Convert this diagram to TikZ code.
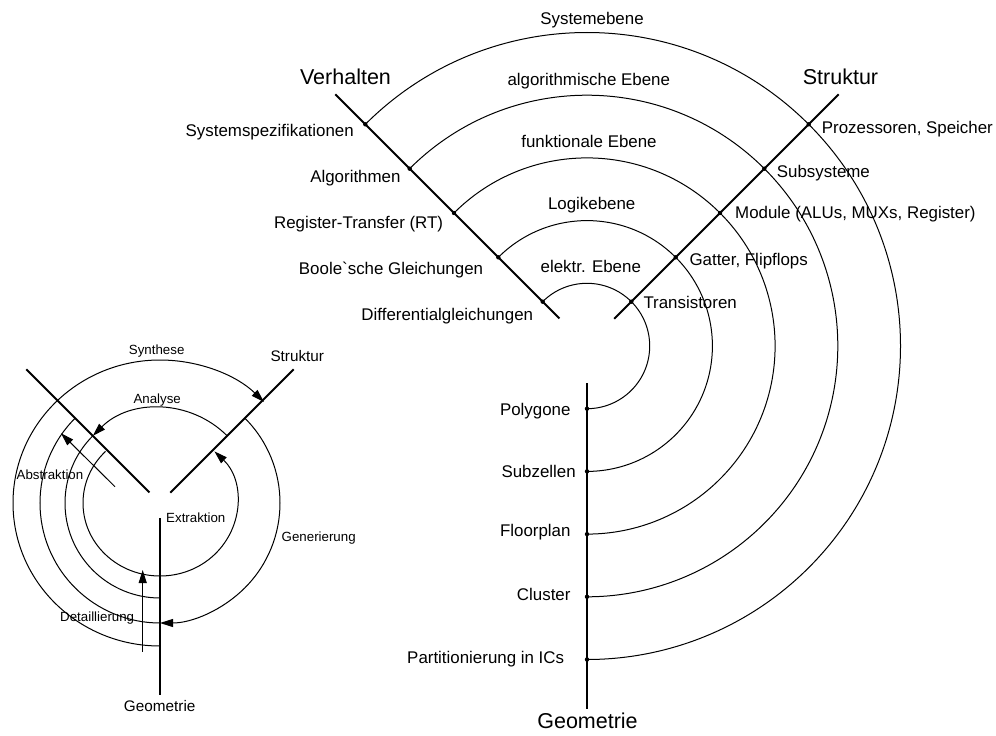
\documentclass[tikz,border=0pt]{standalone}
\usepackage{fontspec}
\newfontfamily\labfont{Liberation Sans}
\usetikzlibrary{calc,arrows.meta}

\begin{document}
\begin{tikzpicture}[x=1pt,y=1pt,
  axisline/.style={line width=1.8pt},
  ringline/.style={line width=1pt},
  joint/.style={circle,fill,inner sep=0pt,minimum size=4.4pt},
  lbl/.style={font=\labfont\fontsize{16.9}{20}\selectfont,inner sep=0pt},
  bigtitle/.style={font=\labfont\fontsize{21.5}{26}\selectfont,inner sep=0pt},
  slbl/.style={font=\labfont\fontsize{13.3}{16}\selectfont,inner sep=0pt},
  stitle/.style={font=\labfont\fontsize{15.3}{18}\selectfont,inner sep=0pt},
  arrowend/.style={-{Triangle[length=13pt,width=8pt]}},
]
\useasboundingbox (0,0) rectangle (996,-736);

% ---------------- Y-diagram (large) ----------------
\coordinate (C) at (587,-346);
\coordinate (VA) at ($(C)+(135:356)$);
\coordinate (VB) at ($(C)+(135:39)$);
\coordinate (SA) at ($(C)+(45:356)$);
\coordinate (SB) at ($(C)+(45:38.5)$);
\coordinate (GA) at ($(C)+(270:37.3)$);
\coordinate (GB) at ($(C)+(270:363)$);

\foreach \i/\r in {1/62.7,2/125.4,3/188.1,4/250.8,5/313.5} {
  \coordinate (va\i) at ($(C)+(135:\r)$);
  \draw[ringline] (va\i) arc[start angle=135, end angle=-90, radius=\r pt];
}

\draw[axisline] (VA) -- (VB);
\draw[axisline] (SA) -- (SB);
\draw[axisline] (GA) -- (GB);

\foreach \i/\r in {1/62.7,2/125.4,3/188.1,4/250.8,5/313.5} {
  \node[joint] (v\i) at ($(C)+(135:\r)$) {};
  \node[joint] (s\i) at ($(C)+(45:\r)$) {};
  \node[joint] (g\i) at ($(C)+(270:\r)$) {};
}

% domain titles
\node[bigtitle,anchor=base] (tv) at (345.5,-84.4) {Verhalten};
\node[bigtitle,anchor=base] (ts) at (840.5,-84.4) {Struktur};
\node[bigtitle,anchor=base] (tg) at (587.5,-728) {Geometrie};

% levels
\node[lbl,anchor=base] (l5) at (592,-24) {Systemebene};
\node[lbl,anchor=base] (l4) at (588.8,-85.3) {algorithmische Ebene};
\node[lbl,anchor=base] (l3) at (589,-147.7) {funktionale Ebene};
\node[lbl,anchor=base] (l2) at (591.7,-209.3) {Logikebene};
\node[lbl,anchor=base] (l1) at (590.8,-272.7) {elektr. Ebene};

% behaviour axis
\node[lbl,anchor=base east] (bv5) at (354,-136) {Systemspezifikationen};
\node[lbl,anchor=base east] (bv4) at (400.7,-182) {Algorithmen};
\node[lbl,anchor=base east] (bv3) at (443.3,-228) {Register-Transfer (RT)};
\node[lbl,anchor=base east] (bv2) at (483.3,-274) {Boole`sche Gleichungen};
\node[lbl,anchor=base east] (bv1) at (533.3,-320) {Differentialgleichungen};

% structure axis
\node[lbl,anchor=base west] (bs5) at (821.7,-133) {Prozessoren, Speicher};
\node[lbl,anchor=base west] (bs4) at (776.7,-177) {Subsysteme};
\node[lbl,anchor=base west] (bs3) at (735,-218.7) {Module (ALUs, MUXs, Register)};
\node[lbl,anchor=base west] (bs2) at (689.3,-265.3) {Gatter, Flipflops};
\node[lbl,anchor=base west] (bs1) at (643.3,-308.7) {Transistoren};

% geometry axis
\node[lbl,anchor=base east] (bg1) at (570.7,-415) {Polygone};
\node[lbl,anchor=base east] (bg2) at (576,-477) {Subzellen};
\node[lbl,anchor=base east] (bg3) at (570.7,-536) {Floorplan};
\node[lbl,anchor=base east] (bg4) at (570.7,-600) {Cluster};
\node[lbl,anchor=base east] (bg5) at (564.3,-663.5) {Partitionierung in ICs};

% ---------------- design steps (small) ----------------
\coordinate (S) at (160,-503);
\coordinate (sVA) at ($(S)+(135:189)$);
\coordinate (sVB) at ($(S)+(135:15)$);
\coordinate (sSA) at ($(S)+(45:189)$);
\coordinate (sSB) at ($(S)+(45:14.5)$);
\coordinate (sGA) at ($(S)+(270:15.3)$);
\coordinate (sGB) at ($(S)+(270:192)$);

\draw[axisline] (sVA) -- (sVB);
\draw[axisline] (sSA) -- (sSB);
\draw[axisline] (sGA) -- (sGB);

% Synthese
\coordinate (o0) at ($(S)+(0,-143)$);
\draw[ringline,arrowend] (o0) arc[start angle=270, end angle=45, x radius=147pt, y radius=143pt];
% Analyse
\coordinate (a0) at ($(S)+(45:95)$);
\coordinate (a1) at ($(S)+(135:95)$);
\draw[ringline,arrowend] (a0) arc[start angle=45, end angle=135, radius=95pt];
\draw[ringline] (a1) arc[start angle=135, end angle=270, radius=95pt];
% Generierung
\coordinate (t0) at ($(S)+(45:120)$);
\coordinate (t1) at ($(S)+(135:120)$);
\draw[ringline,arrowend] (t0) arc[start angle=45, end angle=-90, radius=120pt];
\draw[ringline] (t1) arc[start angle=135, end angle=270, radius=120pt];
% Extraktion
\coordinate (i0) at ($(S)+({77*cos(135)},{73*sin(135)})$);
\draw[ringline,arrowend] (i0) arc[start angle=135, end angle=405, x radius=77pt, y radius=73pt];
% Detaillierung / Abstraktion
\coordinate (d0) at (142.7,-651.7);
\coordinate (d1) at (142.7,-570);
\draw[ringline,arrowend] (d0) -- (d1);
\coordinate (b0) at (115,-486.7);
\coordinate (b1) at (61,-433.3);
\draw[ringline,arrowend] (b0) -- (b1);

\node[slbl,anchor=base] (nsyn) at (156.7,-354) {Synthese};
\node[slbl,anchor=base] (nana) at (157.2,-403) {Analyse};
\node[slbl,anchor=base] (next) at (195.8,-522) {Extraktion};
\node[slbl,anchor=base] (ngen) at (318.7,-541.5) {Generierung};
\node[slbl,anchor=base] (ndet) at (97.2,-621.5) {Detaillierung};
\node[slbl,anchor=base] (nabs) at (50,-479.7) {Abstraktion};
\node[stitle,anchor=base] (nstr) at (297.3,-361.5) {Struktur};
\node[stitle,anchor=base] (ngeo) at (159.7,-711.2) {Geometrie};
\end{tikzpicture}
\end{document}
